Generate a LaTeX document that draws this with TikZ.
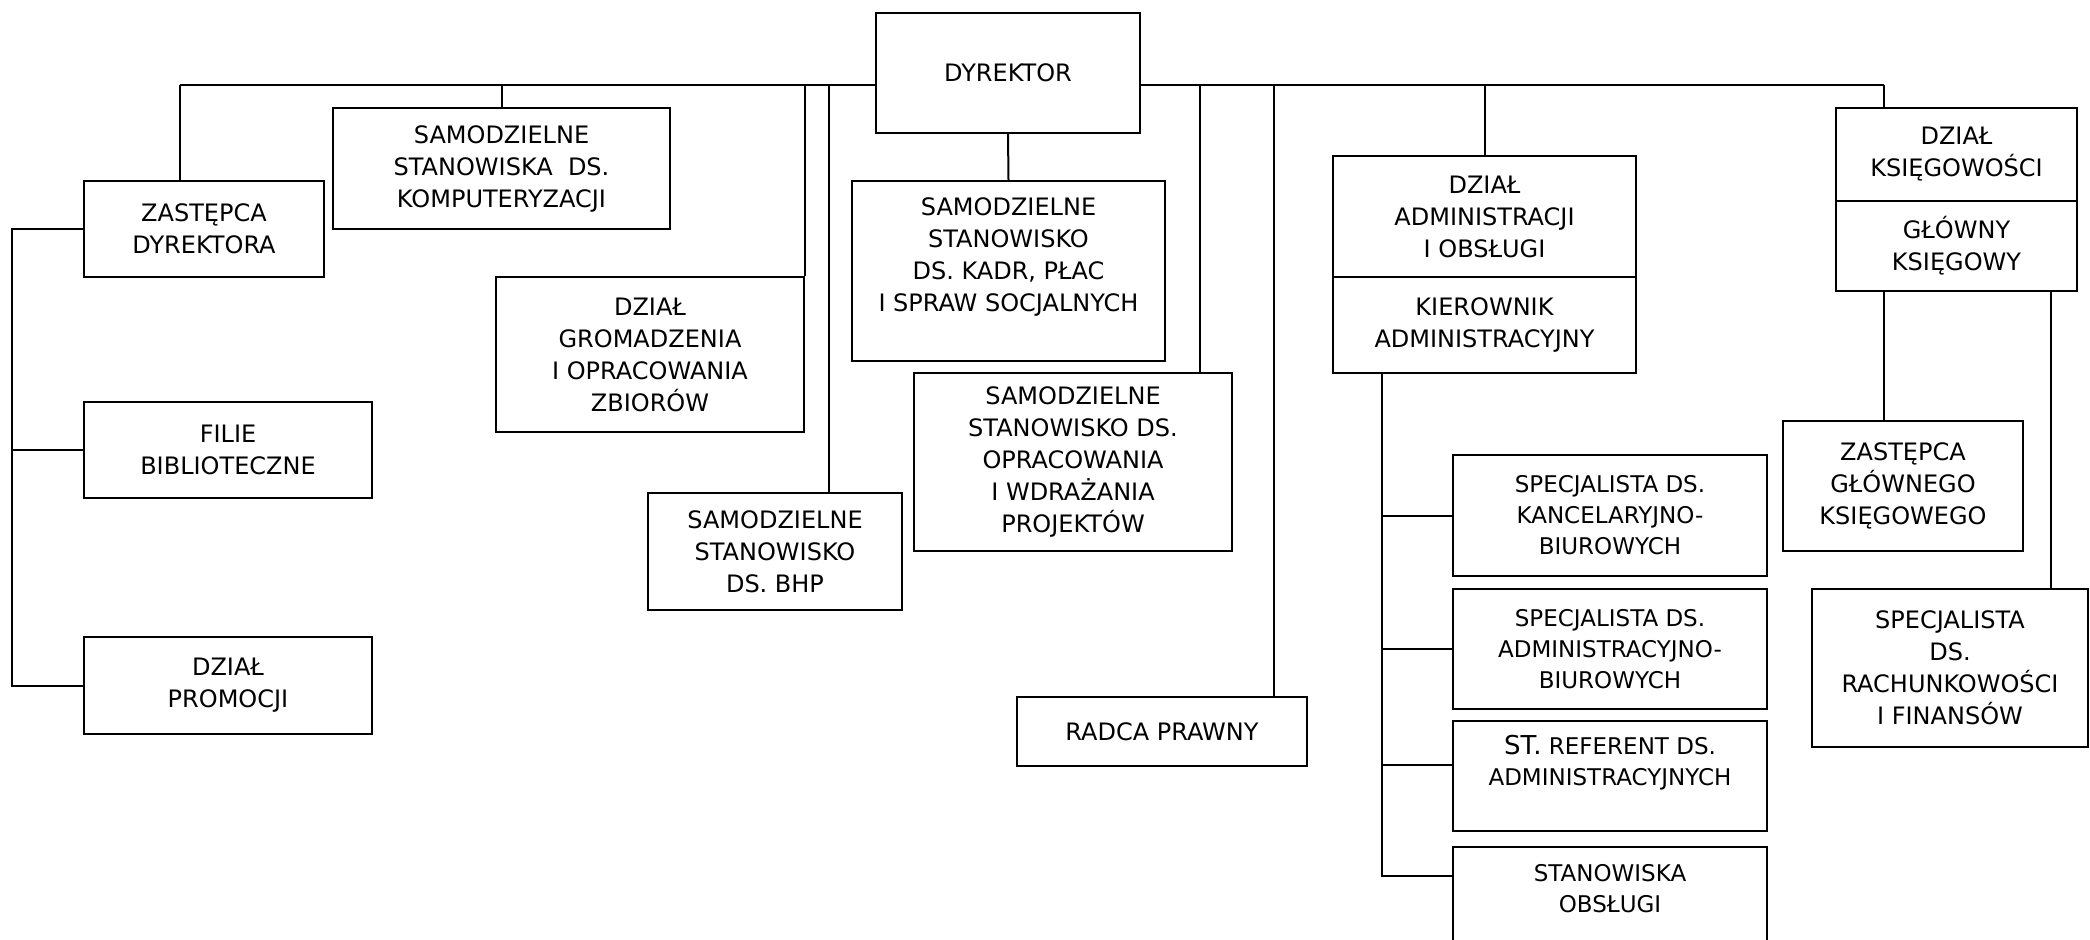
\documentclass[tikz,border=0pt]{standalone}
\usepackage{fontspec}
\setmainfont{DejaVu Sans}
\usetikzlibrary{positioning}

\tikzset{
  box/.style={draw, line width=1pt, align=center, inner sep=2pt, font=\fontsize{12}{16}\selectfont},
  smallbox/.style={box, font=\fontsize{11.5}{15.5}\selectfont},
  link/.style={line width=1pt}
}

\begin{document}
\begin{tikzpicture}[x=0.5pt, y=-0.5pt]
\useasboundingbox (0,0) rectangle (2090,939);

\node[box, minimum width=132pt, minimum height=60pt] (dyr) at (1008,73) {DYREKTOR};

\node[box, minimum width=120pt, minimum height=48pt] (zast) at (204,229) {ZASTĘPCA\\DYREKTORA};
\node[box, minimum width=144pt, minimum height=48pt] (filie) at (228,450) {FILIE\\BIBLIOTECZNE};
\node[box, minimum width=144pt, minimum height=48.5pt] (prom) at (228,685.5) {DZIAŁ\\PROMOCJI};

\node[box, minimum width=168.5pt, minimum height=60.5pt] (komp) at (501.5,168.5) {SAMODZIELNE\\STANOWISKA~~DS.\\KOMPUTERYZACJI};
\node[box, minimum width=154pt, minimum height=77.5pt] (grom) at (650,354.5) {DZIAŁ\\GROMADZENIA\\I OPRACOWANIA\\ZBIORÓW};
\node[box, minimum width=127pt, minimum height=58.5pt] (bhp) at (775,551.5) {SAMODZIELNE\\STANOWISKO\\DS. BHP};

\node[box, minimum width=156.5pt, minimum height=90pt] (kadr) at (1008.5,271) {SAMODZIELNE\\STANOWISKO\\DS. KADR, PŁAC\\I SPRAW SOCJALNYCH\\\mbox{}};
\node[box, minimum width=159pt, minimum height=89pt] (proj) at (1073,462) {SAMODZIELNE\\STANOWISKO DS.\\OPRACOWANIA\\I WDRAŻANIA\\PROJEKTÓW};
\node[box, minimum width=145pt, minimum height=34.5pt] (radca) at (1162,731.5) {RADCA PRAWNY};

\node[box, minimum width=151.5pt, minimum height=60.5pt] (adm) at (1484.5,216.5) {DZIAŁ\\ADMINISTRACJI\\I OBSŁUGI};
\node[box, minimum width=151.5pt, minimum height=48pt] (kier) at (1484.5,325) {KIEROWNIK\\ADMINISTRACYJNY};

\node[smallbox, minimum width=157pt, minimum height=60.5pt] (sk) at (1610,515.5) {SPECJALISTA DS.\\KANCELARYJNO-\\BIUROWYCH};
\node[smallbox, minimum width=157pt, minimum height=60pt] (sa) at (1610,649) {SPECJALISTA DS.\\ADMINISTRACYJNO-\\BIUROWYCH};
\node[smallbox, minimum width=157pt, minimum height=55pt] (sr) at (1610,776) {{\fontsize{13}{15.5}\selectfont ST.} REFERENT DS.\\ADMINISTRACYJNYCH\\\mbox{}};
\node[smallbox, minimum width=157pt, minimum height=56.5pt] (so) at (1610,903.5) {STANOWISKA\\OBSŁUGI\\\mbox{}};

\node[box, minimum width=120.5pt, minimum height=46.5pt] (ksieg) at (1956.5,154.5) {DZIAŁ\\KSIĘGOWOŚCI};
\node[box, minimum width=120.5pt, minimum height=45pt] (glowny) at (1956.5,246) {GŁÓWNY\\KSIĘGOWY};
\node[box, minimum width=120pt, minimum height=65pt] (zgl) at (1903,486) {ZASTĘPCA\\GŁÓWNEGO\\KSIĘGOWEGO};
\node[box, minimum width=138pt, minimum height=79pt] (rach) at (1950,668) {SPECJALISTA\\DS.\\RACHUNKOWOŚCI\\I FINANSÓW};

\coordinate (busL) at (180,85);
\coordinate (busR) at (1884,85);
\coordinate (tBhp) at (829,85);
\coordinate (tProj) at (1200,85);
\coordinate (tRadca) at (1274,85);
\coordinate (lbus) at (12,0);
\coordinate (abus) at (1382,0);
\coordinate (tRach) at (2051,0);
\coordinate (soTap) at ([yshift=-15pt]so.north west);
\coordinate (srTap) at ([yshift=-22.5pt]sr.north west);

% top bus
\draw[link] (busL) -- (dyr.west |- busL);
\draw[link] (dyr.east |- busR) -- (busR);
\draw[link] (busL) -- (busL |- zast.north);
\draw[link] (komp.north) -- (komp.north |- busL);
\draw[link] (grom.north east) -- (grom.north east |- busL);
\draw[link] (tBhp) -- (tBhp |- bhp.north);
\draw[link] (dyr.south) -- (kadr.north);
\draw[link] (tProj) -- (tProj |- proj.north);
\draw[link] (tRadca) -- (tRadca |- radca.north);
\draw[link] (adm.north) -- (adm.north |- busR);
\draw[link] (busR) -- (busR |- ksieg.north);

% zastepca
\draw[link] (zast.west) -| (lbus |- prom.west) -- (prom.west);
\draw[link] (filie.west) -- (filie.west -| lbus);

% administracja
\draw[link] (abus |- kier.south) -- (abus |- soTap) -- (soTap);
\draw[link] (sk.west) -- (sk.west -| abus);
\draw[link] (sa.west) -- (sa.west -| abus);
\draw[link] (srTap) -- (srTap -| abus);

% ksiegowosc
\draw[link] (busR |- glowny.south) -- (busR |- zgl.north);
\draw[link] (tRach |- glowny.south) -- (tRach |- rach.north);

\end{tikzpicture}
\end{document}
